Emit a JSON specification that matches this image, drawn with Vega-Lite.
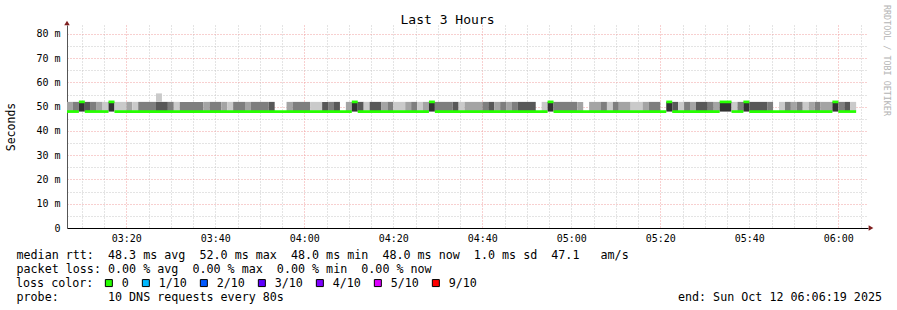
{
  "$schema": "https://vega.github.io/schema/vega-lite/v6.json",
  "width": 801,
  "height": 203,
  "autosize": {"type": "none"},
  "padding": {"left": 67, "top": 25, "right": 29, "bottom": 82},
  "background": "white",
  "config": {
    "view": {"stroke": null},
    "font": "DejaVu Sans Mono",
    "axis": {"labelFont": "DejaVu Sans Mono", "titleFont": "DejaVu Sans Mono", "titleFontWeight": "normal", "labelColor": "black", "titleColor": "black"}
  },
  "title": {"text": "Last 3 Hours", "font": "DejaVu Sans Mono", "fontSize": 13, "fontWeight": "normal", "anchor": "middle", "frame": "group", "dx": -20, "dy": 34, "baseline": "alphabetic", "offset": 2, "color": "black"},
  "datasets": {
    "smoke": [
      {"t0": "2025-10-12T03:06:40", "t1": "2025-10-12T03:08:00", "lo": 48, "hi": 52, "lvl": 2},
      {"t0": "2025-10-12T03:08:00", "t1": "2025-10-12T03:09:20", "lo": 48, "hi": 52, "lvl": 3},
      {"t0": "2025-10-12T03:09:20", "t1": "2025-10-12T03:10:40", "lo": 48, "hi": 52, "lvl": 5},
      {"t0": "2025-10-12T03:10:40", "t1": "2025-10-12T03:12:00", "lo": 48, "hi": 52, "lvl": 4},
      {"t0": "2025-10-12T03:12:00", "t1": "2025-10-12T03:13:20", "lo": 48, "hi": 52, "lvl": 3},
      {"t0": "2025-10-12T03:13:20", "t1": "2025-10-12T03:14:40", "lo": 48, "hi": 52, "lvl": 2},
      {"t0": "2025-10-12T03:14:40", "t1": "2025-10-12T03:16:00", "lo": 48, "hi": 52, "lvl": 1},
      {"t0": "2025-10-12T03:16:00", "t1": "2025-10-12T03:17:20", "lo": 48, "hi": 52, "lvl": 5},
      {"t0": "2025-10-12T03:17:20", "t1": "2025-10-12T03:20:00", "lo": 48, "hi": 52, "lvl": 1},
      {"t0": "2025-10-12T03:20:00", "t1": "2025-10-12T03:21:20", "lo": 48, "hi": 52, "lvl": 2},
      {"t0": "2025-10-12T03:21:20", "t1": "2025-10-12T03:22:40", "lo": 48, "hi": 52, "lvl": 1},
      {"t0": "2025-10-12T03:22:40", "t1": "2025-10-12T03:26:40", "lo": 48, "hi": 52, "lvl": 3},
      {"t0": "2025-10-12T03:26:40", "t1": "2025-10-12T03:29:20", "lo": 48, "hi": 52, "lvl": 4},
      {"t0": "2025-10-12T03:26:40", "t1": "2025-10-12T03:28:00", "lo": 52, "hi": 55.5, "lvl": 1},
      {"t0": "2025-10-12T03:29:20", "t1": "2025-10-12T03:30:40", "lo": 48, "hi": 52, "lvl": 3},
      {"t0": "2025-10-12T03:30:40", "t1": "2025-10-12T03:32:00", "lo": 48, "hi": 52, "lvl": 1},
      {"t0": "2025-10-12T03:32:00", "t1": "2025-10-12T03:37:20", "lo": 48, "hi": 52, "lvl": 3},
      {"t0": "2025-10-12T03:37:20", "t1": "2025-10-12T03:38:40", "lo": 48, "hi": 52, "lvl": 2},
      {"t0": "2025-10-12T03:38:40", "t1": "2025-10-12T03:41:20", "lo": 48, "hi": 52, "lvl": 3},
      {"t0": "2025-10-12T03:41:20", "t1": "2025-10-12T03:42:40", "lo": 48, "hi": 52, "lvl": 2},
      {"t0": "2025-10-12T03:42:40", "t1": "2025-10-12T03:44:00", "lo": 48, "hi": 52, "lvl": 1},
      {"t0": "2025-10-12T03:44:00", "t1": "2025-10-12T03:46:40", "lo": 48, "hi": 52, "lvl": 3},
      {"t0": "2025-10-12T03:46:40", "t1": "2025-10-12T03:48:00", "lo": 48, "hi": 52, "lvl": 2},
      {"t0": "2025-10-12T03:48:00", "t1": "2025-10-12T03:52:00", "lo": 48, "hi": 52, "lvl": 3},
      {"t0": "2025-10-12T03:52:00", "t1": "2025-10-12T03:53:20", "lo": 48, "hi": 52, "lvl": 4},
      {"t0": "2025-10-12T03:56:00", "t1": "2025-10-12T03:57:20", "lo": 48, "hi": 52, "lvl": 2},
      {"t0": "2025-10-12T03:57:20", "t1": "2025-10-12T04:01:20", "lo": 48, "hi": 52, "lvl": 3},
      {"t0": "2025-10-12T04:01:20", "t1": "2025-10-12T04:04:00", "lo": 48, "hi": 52, "lvl": 1},
      {"t0": "2025-10-12T04:04:00", "t1": "2025-10-12T04:05:20", "lo": 48, "hi": 52, "lvl": 4},
      {"t0": "2025-10-12T04:05:20", "t1": "2025-10-12T04:06:40", "lo": 48, "hi": 52, "lvl": 3},
      {"t0": "2025-10-12T04:06:40", "t1": "2025-10-12T04:08:00", "lo": 48, "hi": 52, "lvl": 4},
      {"t0": "2025-10-12T04:09:20", "t1": "2025-10-12T04:10:40", "lo": 48, "hi": 52, "lvl": 2},
      {"t0": "2025-10-12T04:10:40", "t1": "2025-10-12T04:12:00", "lo": 48, "hi": 52, "lvl": 5},
      {"t0": "2025-10-12T04:12:00", "t1": "2025-10-12T04:13:20", "lo": 48, "hi": 52, "lvl": 4},
      {"t0": "2025-10-12T04:13:20", "t1": "2025-10-12T04:14:40", "lo": 48, "hi": 52, "lvl": 1},
      {"t0": "2025-10-12T04:14:40", "t1": "2025-10-12T04:17:20", "lo": 48, "hi": 52, "lvl": 4},
      {"t0": "2025-10-12T04:17:20", "t1": "2025-10-12T04:18:40", "lo": 48, "hi": 52, "lvl": 2},
      {"t0": "2025-10-12T04:18:40", "t1": "2025-10-12T04:20:00", "lo": 48, "hi": 52, "lvl": 3},
      {"t0": "2025-10-12T04:20:00", "t1": "2025-10-12T04:22:40", "lo": 48, "hi": 52, "lvl": 1},
      {"t0": "2025-10-12T04:22:40", "t1": "2025-10-12T04:24:00", "lo": 48, "hi": 52, "lvl": 2},
      {"t0": "2025-10-12T04:24:00", "t1": "2025-10-12T04:25:20", "lo": 48, "hi": 52, "lvl": 3},
      {"t0": "2025-10-12T04:25:20", "t1": "2025-10-12T04:26:40", "lo": 48, "hi": 52, "lvl": 1},
      {"t0": "2025-10-12T04:26:40", "t1": "2025-10-12T04:28:00", "lo": 48, "hi": 52, "lvl": 2},
      {"t0": "2025-10-12T04:28:00", "t1": "2025-10-12T04:29:20", "lo": 48, "hi": 52, "lvl": 5},
      {"t0": "2025-10-12T04:29:20", "t1": "2025-10-12T04:33:20", "lo": 48, "hi": 52, "lvl": 3},
      {"t0": "2025-10-12T04:33:20", "t1": "2025-10-12T04:34:40", "lo": 48, "hi": 52, "lvl": 4},
      {"t0": "2025-10-12T04:34:40", "t1": "2025-10-12T04:36:00", "lo": 48, "hi": 52, "lvl": 1},
      {"t0": "2025-10-12T04:36:00", "t1": "2025-10-12T04:40:00", "lo": 48, "hi": 52, "lvl": 2},
      {"t0": "2025-10-12T04:40:00", "t1": "2025-10-12T04:41:20", "lo": 48, "hi": 52, "lvl": 3},
      {"t0": "2025-10-12T04:41:20", "t1": "2025-10-12T04:42:40", "lo": 48, "hi": 52, "lvl": 4},
      {"t0": "2025-10-12T04:42:40", "t1": "2025-10-12T04:44:00", "lo": 48, "hi": 52, "lvl": 2},
      {"t0": "2025-10-12T04:44:00", "t1": "2025-10-12T04:45:20", "lo": 48, "hi": 52, "lvl": 3},
      {"t0": "2025-10-12T04:45:20", "t1": "2025-10-12T04:46:40", "lo": 48, "hi": 52, "lvl": 2},
      {"t0": "2025-10-12T04:46:40", "t1": "2025-10-12T04:48:00", "lo": 48, "hi": 52, "lvl": 3},
      {"t0": "2025-10-12T04:48:00", "t1": "2025-10-12T04:52:00", "lo": 48, "hi": 52, "lvl": 4},
      {"t0": "2025-10-12T04:53:20", "t1": "2025-10-12T04:54:40", "lo": 48, "hi": 52, "lvl": 1},
      {"t0": "2025-10-12T04:54:40", "t1": "2025-10-12T04:56:00", "lo": 48, "hi": 52, "lvl": 5},
      {"t0": "2025-10-12T04:56:00", "t1": "2025-10-12T05:01:20", "lo": 48, "hi": 52, "lvl": 3},
      {"t0": "2025-10-12T05:01:20", "t1": "2025-10-12T05:02:40", "lo": 48, "hi": 52, "lvl": 2},
      {"t0": "2025-10-12T05:04:00", "t1": "2025-10-12T05:06:40", "lo": 48, "hi": 52, "lvl": 2},
      {"t0": "2025-10-12T05:06:40", "t1": "2025-10-12T05:08:00", "lo": 48, "hi": 52, "lvl": 3},
      {"t0": "2025-10-12T05:08:00", "t1": "2025-10-12T05:09:20", "lo": 48, "hi": 52, "lvl": 1},
      {"t0": "2025-10-12T05:09:20", "t1": "2025-10-12T05:10:40", "lo": 48, "hi": 52, "lvl": 3},
      {"t0": "2025-10-12T05:10:40", "t1": "2025-10-12T05:13:20", "lo": 48, "hi": 52, "lvl": 2},
      {"t0": "2025-10-12T05:13:20", "t1": "2025-10-12T05:16:00", "lo": 48, "hi": 52, "lvl": 1},
      {"t0": "2025-10-12T05:16:00", "t1": "2025-10-12T05:17:20", "lo": 48, "hi": 52, "lvl": 2},
      {"t0": "2025-10-12T05:17:20", "t1": "2025-10-12T05:20:00", "lo": 48, "hi": 52, "lvl": 3},
      {"t0": "2025-10-12T05:21:20", "t1": "2025-10-12T05:22:40", "lo": 48, "hi": 52, "lvl": 5},
      {"t0": "2025-10-12T05:22:40", "t1": "2025-10-12T05:24:00", "lo": 48, "hi": 52, "lvl": 4},
      {"t0": "2025-10-12T05:24:00", "t1": "2025-10-12T05:25:20", "lo": 48, "hi": 52, "lvl": 1},
      {"t0": "2025-10-12T05:25:20", "t1": "2025-10-12T05:26:40", "lo": 48, "hi": 52, "lvl": 3},
      {"t0": "2025-10-12T05:26:40", "t1": "2025-10-12T05:28:00", "lo": 48, "hi": 52, "lvl": 2},
      {"t0": "2025-10-12T05:28:00", "t1": "2025-10-12T05:30:40", "lo": 48, "hi": 52, "lvl": 4},
      {"t0": "2025-10-12T05:30:40", "t1": "2025-10-12T05:32:00", "lo": 48, "hi": 52, "lvl": 3},
      {"t0": "2025-10-12T05:32:00", "t1": "2025-10-12T05:33:20", "lo": 48, "hi": 52, "lvl": 2},
      {"t0": "2025-10-12T05:33:20", "t1": "2025-10-12T05:36:00", "lo": 48, "hi": 52, "lvl": 5},
      {"t0": "2025-10-12T05:36:00", "t1": "2025-10-12T05:37:20", "lo": 48, "hi": 52, "lvl": 1},
      {"t0": "2025-10-12T05:37:20", "t1": "2025-10-12T05:38:40", "lo": 48, "hi": 52, "lvl": 3},
      {"t0": "2025-10-12T05:38:40", "t1": "2025-10-12T05:40:00", "lo": 48, "hi": 52, "lvl": 5},
      {"t0": "2025-10-12T05:40:00", "t1": "2025-10-12T05:44:00", "lo": 48, "hi": 52, "lvl": 4},
      {"t0": "2025-10-12T05:44:00", "t1": "2025-10-12T05:45:20", "lo": 48, "hi": 52, "lvl": 3},
      {"t0": "2025-10-12T05:46:40", "t1": "2025-10-12T05:48:00", "lo": 48, "hi": 52, "lvl": 1},
      {"t0": "2025-10-12T05:48:00", "t1": "2025-10-12T05:49:20", "lo": 48, "hi": 52, "lvl": 3},
      {"t0": "2025-10-12T05:49:20", "t1": "2025-10-12T05:50:40", "lo": 48, "hi": 52, "lvl": 2},
      {"t0": "2025-10-12T05:50:40", "t1": "2025-10-12T05:52:00", "lo": 48, "hi": 52, "lvl": 3},
      {"t0": "2025-10-12T05:52:00", "t1": "2025-10-12T05:53:20", "lo": 48, "hi": 52, "lvl": 1},
      {"t0": "2025-10-12T05:53:20", "t1": "2025-10-12T05:54:40", "lo": 48, "hi": 52, "lvl": 2},
      {"t0": "2025-10-12T05:54:40", "t1": "2025-10-12T05:56:00", "lo": 48, "hi": 52, "lvl": 3},
      {"t0": "2025-10-12T05:56:00", "t1": "2025-10-12T05:58:40", "lo": 48, "hi": 52, "lvl": 2},
      {"t0": "2025-10-12T05:58:40", "t1": "2025-10-12T06:00:00", "lo": 48, "hi": 52, "lvl": 5},
      {"t0": "2025-10-12T06:00:00", "t1": "2025-10-12T06:01:20", "lo": 48, "hi": 52, "lvl": 3},
      {"t0": "2025-10-12T06:01:20", "t1": "2025-10-12T06:02:40", "lo": 48, "hi": 52, "lvl": 4},
      {"t0": "2025-10-12T06:02:40", "t1": "2025-10-12T06:04:00", "lo": 48, "hi": 52, "lvl": 1}
    ],
    "median": [
      {"t0": "2025-10-12T03:06:40", "t1": "2025-10-12T03:09:20", "med": 48, "loss": "0"},
      {"t0": "2025-10-12T03:09:20", "t1": "2025-10-12T03:10:40", "med": 52, "loss": "0"},
      {"t0": "2025-10-12T03:10:40", "t1": "2025-10-12T03:16:00", "med": 48, "loss": "0"},
      {"t0": "2025-10-12T03:16:00", "t1": "2025-10-12T03:17:20", "med": 52, "loss": "0"},
      {"t0": "2025-10-12T03:17:20", "t1": "2025-10-12T04:10:40", "med": 48, "loss": "0"},
      {"t0": "2025-10-12T04:10:40", "t1": "2025-10-12T04:12:00", "med": 52, "loss": "0"},
      {"t0": "2025-10-12T04:12:00", "t1": "2025-10-12T04:28:00", "med": 48, "loss": "0"},
      {"t0": "2025-10-12T04:28:00", "t1": "2025-10-12T04:29:20", "med": 52, "loss": "0"},
      {"t0": "2025-10-12T04:29:20", "t1": "2025-10-12T04:54:40", "med": 48, "loss": "0"},
      {"t0": "2025-10-12T04:54:40", "t1": "2025-10-12T04:56:00", "med": 52, "loss": "0"},
      {"t0": "2025-10-12T04:56:00", "t1": "2025-10-12T05:21:20", "med": 48, "loss": "0"},
      {"t0": "2025-10-12T05:21:20", "t1": "2025-10-12T05:22:40", "med": 52, "loss": "0"},
      {"t0": "2025-10-12T05:22:40", "t1": "2025-10-12T05:33:20", "med": 48, "loss": "0"},
      {"t0": "2025-10-12T05:33:20", "t1": "2025-10-12T05:36:00", "med": 52, "loss": "0"},
      {"t0": "2025-10-12T05:36:00", "t1": "2025-10-12T05:38:40", "med": 48, "loss": "0"},
      {"t0": "2025-10-12T05:38:40", "t1": "2025-10-12T05:40:00", "med": 52, "loss": "0"},
      {"t0": "2025-10-12T05:40:00", "t1": "2025-10-12T05:58:40", "med": 48, "loss": "0"},
      {"t0": "2025-10-12T05:58:40", "t1": "2025-10-12T06:00:00", "med": 52, "loss": "0"},
      {"t0": "2025-10-12T06:00:00", "t1": "2025-10-12T06:04:00", "med": 48, "loss": "0"}
    ]
  },
  "resolve": {"scale": {"color": "independent"}, "axis": {"x": "independent", "y": "independent"}},
  "layer": [
    {
      "data": {"name": "smoke"},
      "mark": {"type": "rect"},
      "encoding": {
        "x": {
          "field": "t0", "type": "temporal",
          "scale": {"domain": [{"year": 2025, "month": 10, "date": 12, "hours": 3, "minutes": 6, "seconds": 40}, {"year": 2025, "month": 10, "date": 12, "hours": 6, "minutes": 6, "seconds": 40}]},
          "axis": {
            "orient": "bottom",
            "values": [
              {"year": 2025, "month": 10, "date": 12, "hours": 3, "minutes": 10},
              {"year": 2025, "month": 10, "date": 12, "hours": 3, "minutes": 15},
              {"year": 2025, "month": 10, "date": 12, "hours": 3, "minutes": 20},
              {"year": 2025, "month": 10, "date": 12, "hours": 3, "minutes": 25},
              {"year": 2025, "month": 10, "date": 12, "hours": 3, "minutes": 30},
              {"year": 2025, "month": 10, "date": 12, "hours": 3, "minutes": 35},
              {"year": 2025, "month": 10, "date": 12, "hours": 3, "minutes": 40},
              {"year": 2025, "month": 10, "date": 12, "hours": 3, "minutes": 45},
              {"year": 2025, "month": 10, "date": 12, "hours": 3, "minutes": 50},
              {"year": 2025, "month": 10, "date": 12, "hours": 3, "minutes": 55},
              {"year": 2025, "month": 10, "date": 12, "hours": 4, "minutes": 0},
              {"year": 2025, "month": 10, "date": 12, "hours": 4, "minutes": 5},
              {"year": 2025, "month": 10, "date": 12, "hours": 4, "minutes": 10},
              {"year": 2025, "month": 10, "date": 12, "hours": 4, "minutes": 15},
              {"year": 2025, "month": 10, "date": 12, "hours": 4, "minutes": 20},
              {"year": 2025, "month": 10, "date": 12, "hours": 4, "minutes": 25},
              {"year": 2025, "month": 10, "date": 12, "hours": 4, "minutes": 30},
              {"year": 2025, "month": 10, "date": 12, "hours": 4, "minutes": 35},
              {"year": 2025, "month": 10, "date": 12, "hours": 4, "minutes": 40},
              {"year": 2025, "month": 10, "date": 12, "hours": 4, "minutes": 45},
              {"year": 2025, "month": 10, "date": 12, "hours": 4, "minutes": 50},
              {"year": 2025, "month": 10, "date": 12, "hours": 4, "minutes": 55},
              {"year": 2025, "month": 10, "date": 12, "hours": 5, "minutes": 0},
              {"year": 2025, "month": 10, "date": 12, "hours": 5, "minutes": 5},
              {"year": 2025, "month": 10, "date": 12, "hours": 5, "minutes": 10},
              {"year": 2025, "month": 10, "date": 12, "hours": 5, "minutes": 15},
              {"year": 2025, "month": 10, "date": 12, "hours": 5, "minutes": 20},
              {"year": 2025, "month": 10, "date": 12, "hours": 5, "minutes": 25},
              {"year": 2025, "month": 10, "date": 12, "hours": 5, "minutes": 30},
              {"year": 2025, "month": 10, "date": 12, "hours": 5, "minutes": 35},
              {"year": 2025, "month": 10, "date": 12, "hours": 5, "minutes": 40},
              {"year": 2025, "month": 10, "date": 12, "hours": 5, "minutes": 45},
              {"year": 2025, "month": 10, "date": 12, "hours": 5, "minutes": 50},
              {"year": 2025, "month": 10, "date": 12, "hours": 5, "minutes": 55},
              {"year": 2025, "month": 10, "date": 12, "hours": 6, "minutes": 0},
              {"year": 2025, "month": 10, "date": 12, "hours": 6, "minutes": 5}
            ],
            "labelExpr": "minutes(datum.value) % 20 == 0 ? timeFormat(datum.value, '%H:%M') : ''",
            "labelFontSize": 10,
            "labelPadding": 5,
            "labelOverlap": false,
            "labelFlush": false,
            "grid": true,
            "gridColor": {"condition": {"test": "(hours(datum.value) * 60 + minutes(datum.value)) % 40 == 0", "value": "#f0a0a0"}, "value": "#c8c8c8"},
            "gridDash": [1, 2],
            "gridWidth": 1,
            "ticks": false,
            "domain": true,
            "domainColor": "black",
            "domainWidth": 1,
            "zindex": 0,
            "title": ["median\u00a0rtt:\u00a0\u00a048.3\u00a0ms\u00a0avg\u00a0\u00a052.0\u00a0ms\u00a0max\u00a0\u00a048.0\u00a0ms\u00a0min\u00a0\u00a048.0\u00a0ms\u00a0now\u00a0\u00a01.0\u00a0ms\u00a0sd\u00a0\u00a047.1\u00a0\u00a0\u00a0am/s", "packet\u00a0loss:\u00a00.00\u00a0%\u00a0avg\u00a0\u00a00.00\u00a0%\u00a0max\u00a0\u00a00.00\u00a0%\u00a0min\u00a0\u00a00.00\u00a0%\u00a0now"],
            "titleX": -51,
            "titleY": 30,
            "titleAlign": "left",
            "titleAnchor": "start",
            "titleBaseline": "alphabetic",
            "titleFontSize": 11.7,
            "titleLineHeight": 14
          }
        },
        "x2": {"field": "t1"},
        "y": {
          "field": "lo", "type": "quantitative",
          "scale": {"domain": [0, 83.7], "nice": false},
          "axis": {
            "orient": "left",
            "values": [0, 5, 10, 15, 20, 25, 30, 35, 40, 45, 50, 55, 60, 65, 70, 75, 80],
            "labelExpr": "datum.value == 0 ? '0\u00a0\u00a0' : (datum.value % 10 == 0 ? datum.value + ' m' : '')",
            "labelFontSize": 10,
            "labelPadding": 7,
            "labelOverlap": false,
            "labelFlush": false,
            "grid": true,
            "gridColor": {"condition": {"test": "datum.value % 10 == 0", "value": "#f0a0a0"}, "value": "#c8c8c8"},
            "gridDash": [1, 2],
            "gridWidth": 1,
            "ticks": false,
            "domain": true,
            "domainColor": "#555555",
            "domainWidth": 1,
            "zindex": 0,
            "title": "Seconds",
            "titleX": -56,
            "titleY": 101.5,
            "titleAngle": -90,
            "titleAlign": "center",
            "titleBaseline": "middle",
            "titleFontSize": 11.5
          }
        },
        "y2": {"field": "hi"},
        "color": {
          "field": "lvl", "type": "ordinal",
          "scale": {"domain": [1, 2, 3, 4, 5], "range": ["#cacaca", "#a4a4a4", "#7e7e7e", "#585858", "#323232"]},
          "legend": null
        }
      }
    },
    {
      "data": {"name": "median"},
      "mark": {"type": "rect", "yOffset": 1.35, "y2Offset": -1.35},
      "encoding": {
        "x": {
          "field": "t0", "type": "temporal",
          "axis": {
            "orient": "bottom", "grid": false, "labels": false, "ticks": false, "domain": false,
            "title": "probe:\u00a0\u00a0\u00a0\u00a0\u00a0\u00a0\u00a010\u00a0DNS\u00a0requests\u00a0every\u00a080s\u00a0\u00a0\u00a0\u00a0\u00a0\u00a0\u00a0\u00a0\u00a0\u00a0\u00a0\u00a0\u00a0\u00a0\u00a0\u00a0\u00a0\u00a0\u00a0\u00a0\u00a0\u00a0\u00a0\u00a0\u00a0\u00a0\u00a0\u00a0\u00a0\u00a0\u00a0\u00a0\u00a0\u00a0\u00a0\u00a0\u00a0\u00a0\u00a0\u00a0\u00a0\u00a0\u00a0\u00a0\u00a0\u00a0\u00a0\u00a0\u00a0\u00a0\u00a0\u00a0\u00a0\u00a0\u00a0\u00a0end:\u00a0Sun\u00a0Oct\u00a012\u00a006:06:19\u00a02025",
            "titleX": -51, "titleY": 72, "titleAlign": "left", "titleAnchor": "start", "titleBaseline": "alphabetic", "titleFontSize": 11.7
          }
        },
        "x2": {"field": "t1"},
        "y": {
          "field": "med", "type": "quantitative",
          "axis": {
            "orient": "right", "grid": false, "labels": false, "ticks": false, "domain": false,
            "title": "RRDTOOL / TOBI OETIKER",
            "titleX": 18, "titleY": 35, "titleAngle": 90, "titleAlign": "center", "titleBaseline": "middle",
            "titleFontSize": 8.4, "titleColor": "#b4b4b4"
          }
        },
        "y2": {"field": "med"},
        "color": {
          "field": "loss", "type": "nominal",
          "scale": {"domain": ["0", "1/10", "2/10", "3/10", "4/10", "5/10", "9/10"], "range": ["#26ff00", "#00b8ff", "#0059ff", "#5e00ff", "#7e00ff", "#dd00ff", "#ff0000"]},
          "legend": {
            "orient": "none", "legendX": -51, "legendY": 252, "direction": "horizontal",
            "title": "loss color:", "titleOrient": "left", "titleFont": "DejaVu Sans Mono", "titleFontSize": 11.7, "titleFontWeight": "normal", "titleColor": "black", "titlePadding": 9,
            "labelFont": "DejaVu Sans Mono", "labelFontSize": 11.7, "labelColor": "black", "labelOffset": 7,
            "columnPadding": 11, "symbolType": "square", "symbolSize": 49, "symbolStrokeColor": "black", "symbolStrokeWidth": 1, "symbolOpacity": 1,
            "encode": {"symbols": {"update": {"stroke": {"value": "black"}, "strokeWidth": {"value": 1}, "opacity": {"value": 1}}}}
          }
        }
      }
    },
    {
      "data": {"values": [{}]},
      "mark": {"type": "point", "shape": "triangle-right", "filled": true, "color": "#7f1f1f", "size": 30, "opacity": 1, "xOffset": 3},
      "encoding": {
        "x": {"datum": {"year": 2025, "month": 10, "date": 12, "hours": 6, "minutes": 6, "seconds": 40}, "type": "temporal", "axis": null},
        "y": {"datum": 0, "type": "quantitative", "axis": null}
      }
    },
    {
      "data": {"values": [{}]},
      "mark": {"type": "point", "shape": "triangle-up", "filled": true, "color": "#7f1f1f", "size": 30, "opacity": 1, "yOffset": -2},
      "encoding": {
        "x": {"datum": {"year": 2025, "month": 10, "date": 12, "hours": 3, "minutes": 6, "seconds": 40}, "type": "temporal", "axis": null},
        "y": {"datum": 83.7, "type": "quantitative", "axis": null}
      }
    }
  ]
}
